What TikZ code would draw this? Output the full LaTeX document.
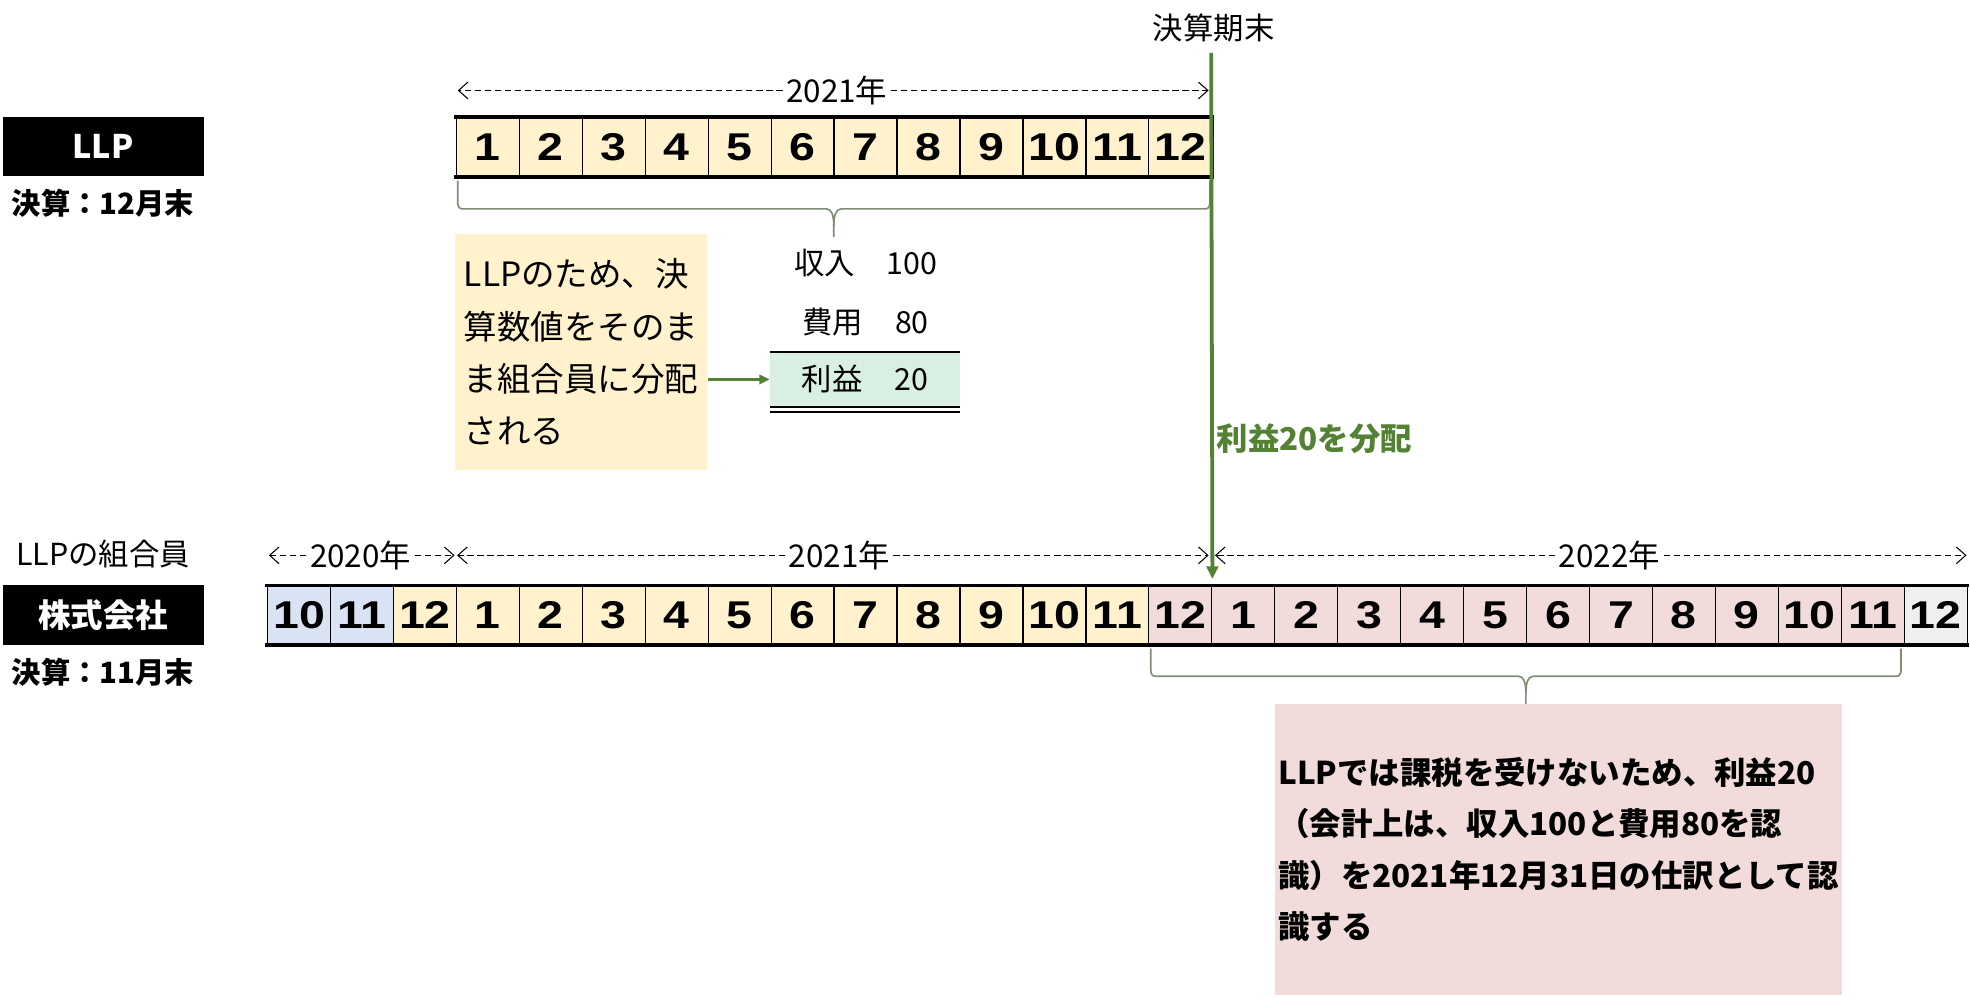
\documentclass[tikz,border=0pt]{standalone}
\usepackage{fontspec}
\setmainfont{Noto Sans CJK JP}
\newfontfamily\numfont[FakeStretch=1.2]{Liberation Sans}
\usetikzlibrary{arrows.meta}
\usetikzlibrary{calc}
\usetikzlibrary{positioning}
\definecolor{yel}{HTML}{FFF2CC}
\definecolor{blu}{HTML}{DAE3F3}
\definecolor{pnk}{HTML}{F2DCDB}
\definecolor{gry}{HTML}{EFEFEF}
\definecolor{mint}{HTML}{D9EFE3}
\definecolor{grn}{HTML}{548235}
\definecolor{brgrey}{HTML}{7F8C76}
\tikzset{cell/.style = {draw, line width=0.6pt, inner sep=0,
                        minimum width=30.06pt, minimum height=27.9pt,
                        font=\numfont\bfseries\fontsize{18.5}{18.5}\selectfont}}
\tikzset{rowline/.style = {line width=1.6pt, line cap=rect}}
\tikzset{namebox/.style = {fill=black, text=white, inner sep=0,
                           minimum width=96pt, minimum height=28.2pt,
                           font=\bfseries\fontsize{15.5}{15.5}\selectfont}}
\tikzset{lbl/.style = {inner sep=0, font=\fontsize{14.5}{14.5}\selectfont}}
\tikzset{boldlbl/.style = {inner sep=0, font=\bfseries\fontsize{14}{14}\selectfont}}
\tikzset{yr/.style = {inner sep=1.5pt, font=\fontsize{15}{15}\selectfont}}
\tikzset{span/.style = {dash pattern=on 3pt off 1.8pt, line width=0.5pt,
                        -{Straight Barb[length=4.5pt,width=8pt]}}}
\tikzset{brc/.style = {brgrey, line width=0.8pt}}
\tikzset{grnline/.style = {grn, line width=1.8pt, -{Triangle[length=6pt,width=5.5pt]}}}
\tikzset{note/.style = {inner sep=0, align=left}}
\newcommand\bracedown[3]{% left end, right end, depth
  \coordinate (bl) at (#1);
  \coordinate (br) at (#2);
  \coordinate (bm) at ($(bl)!0.5!(br)$);
  \draw[brc] (bl) -- ($(bl)+(0,0.36*#3)$) .. controls +(0,0.14*#3) and +(-3,0) .. ($(bl)+(5,0.5*#3)$)
    -- ($(bm)+(-6,0.5*#3)$) .. controls +(4,0) and +(0,-0.2*#3) .. ($(bm)+(0,0.8*#3)$) -- ($(bm)+(0,#3)$);
  \draw[brc] (br) -- ($(br)+(0,0.36*#3)$) .. controls +(0,0.14*#3) and +(3,0) .. ($(br)+(-5,0.5*#3)$)
    -- ($(bm)+(6,0.5*#3)$) .. controls +(-4,0) and +(0,-0.2*#3) .. ($(bm)+(0,0.8*#3)$);
}

\begin{document}
\begin{tikzpicture}[x=0.6pt, y=-0.6pt]
  \useasboundingbox (0,0) rectangle (1568,794);

  % left labels
  \node[namebox] (llp) at (82,116.5) {LLP};
  \node[boldlbl] (llpfy) at (82,162) {決算：12月末};
  \node[lbl] (member) at (82,441) {LLPの組合員};
  \node[namebox] (kk) at (82,489.5) {株式会社};
  \node[boldlbl] (kkfy) at (82,535) {決算：11月末};

  % LLP months
  \foreach \i in {1,...,12}
    \node[cell, fill=yel] (t\i) at ({213+50.1*(\i+2.5)},117) {\i};
  \draw[rowline] (t1.north west) -- (t12.north east) -- (t12.south east) -- (t1.south west);

  % company months
  \foreach \i in {1,...,27} {
    \pgfmathtruncatemacro\m{mod(\i+8,12)+1}
    \ifnum\i<3 \def\c{blu}\else\ifnum\i<15 \def\c{yel}\else\ifnum\i<27 \def\c{pnk}\else\def\c{gry}\fi\fi\fi
    \node[cell, fill=\c] (b\i) at ({213+50.1*(\i-0.5)},489.5) {\m};
  }
  \draw[rowline] (b1.north west) -- (b27.north east);
  \draw[rowline] (b1.south west) -- (b27.south east);

  % years
  \node[yr] (ytop) at (666,72) {2021年};
  \draw[span] (ytop.west) -- ($(t1.west |- ytop.west)+(1.5,0)$);
  \draw[span] (ytop.east) -- ($(t12.east |- ytop.east)+(-3,0)$);
  \node[yr] (y20) at (287,442) {2020年};
  \draw[span] (y20.west) -- ($(b1.west |- y20.west)+(1.5,0)$);
  \draw[span] (y20.east) -- ($(b3.east |- y20.east)+(-2,0)$);
  \node[yr] (y21) at (668,442) {2021年};
  \draw[span] (y21.west) -- ($(b4.west |- y21.west)+(1,0)$);
  \draw[span] (y21.east) -- ($(b15.east |- y21.east)+(-3,0)$);
  \node[yr] (y22) at (1281,442) {2022年};
  \draw[span] (y22.west) -- ($(b16.west |- y22.west)+(3,0)$);
  \draw[span] (y22.east) -- ($(b27.east |- y22.east)+(-1,0)$);

  % braces
  \bracedown{$(t1.south west)+(1.5,3)$}{$(t12.south east)+(-2,3)$}{45}
  \bracedown{$(b15.south west)+(2,3)$}{$(b26.south east)+(-3,3)$}{44}

  % year end
  \node[lbl] (kimatsu) at (966,22) {決算期末};
  \coordinate (gtop) at (964,42);
  \draw[grnline] (gtop) -- ([yshift=3pt]b15.north east);
  \node[boldlbl, anchor=west, text=grn, font=\bfseries\fontsize{15}{15}\selectfont] (dist) at (968,349) {利益20を分配};

  % LLP result
  \node[note, fill=yel, minimum width=120.6pt, minimum height=112.8pt,
        font=\fontsize{16}{24.9}\selectfont] (memo) at (462.5,280)
        {LLPのため、決\\算数値をそのま\\ま組合員に分配\\される};
  \node[lbl] (rev) at (689,209) {収入\hspace{1.05em}100};
  \node[lbl] (exp) at (689,256) {費用\hspace{1.05em}80};
  \node[lbl, fill=mint, minimum width=90.6pt, minimum height=25.8pt] (prof) at (688.5,302) {利益\hspace{1.05em}20};
  \draw[line width=1.3pt] (prof.north west) -- (prof.north east);
  \draw[line width=0.9pt] (prof.south west) -- (prof.south east);
  \draw[line width=0.9pt] ([yshift=-2.4pt]prof.south west) -- ([yshift=-2.4pt]prof.south east);
  \draw[grn, line width=1.4pt, -{Triangle[length=5pt,width=4.5pt]}] (memo.east |- prof.west) -- (prof.west);

  % member
  \node[note, fill=pnk, minimum width=270.6pt, minimum height=139.2pt,
        font=\bfseries\fontsize{15}{24.6}\selectfont] (tax) at (1240.5,676)
        {LLPでは課税を受けないため、利益20\\（会計上は、収入100と費用80を認\\識）を2021年12月31日の仕訳として認\\識する};
\end{tikzpicture}
\end{document}
